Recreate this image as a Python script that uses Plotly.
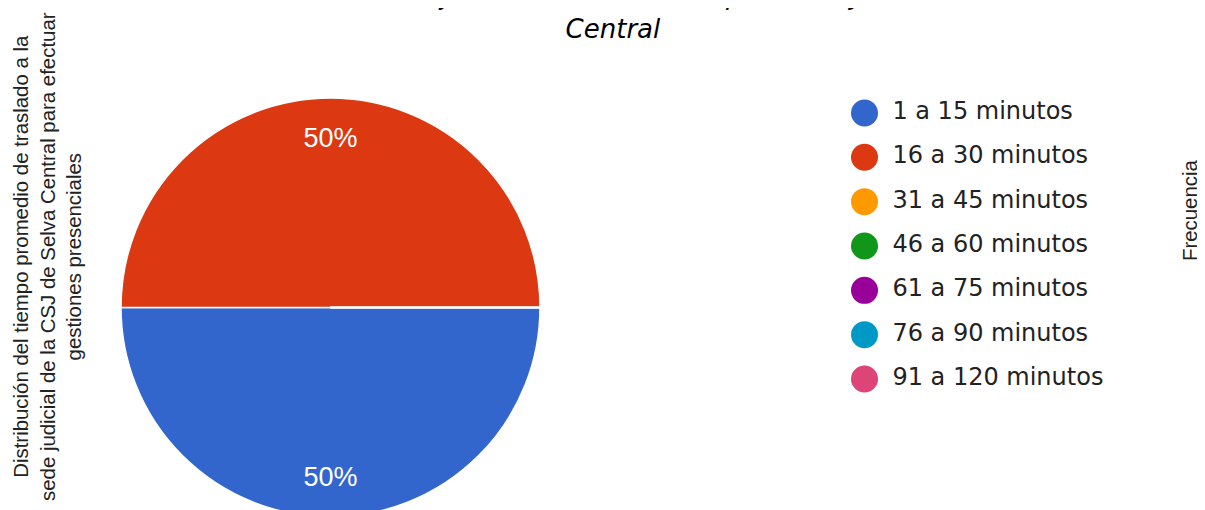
import plotly.graph_objects as go

# ---- data ----
categories = ["1 a 15 minutos", "16 a 30 minutos", "31 a 45 minutos", "46 a 60 minutos",
              "61 a 75 minutos", "76 a 90 minutos", "91 a 120 minutos"]
values = [1, 1, 0, 0, 0, 0, 0]
colors = ["#3366CC", "#DC3912", "#FF9900", "#109618", "#990099", "#0099C6", "#DD4477"]

title_text = ("trasladarse a la sede judicial de la Corte Superior de Justicia de Selva<br>"
              "Central")
left_title = ("Distribución del tiempo promedio de traslado a la<br>"
              "sede judicial de la CSJ de Selva Central para efectuar<br>"
              "gestiones presenciales")
right_title = "Frecuencia"

W, H = 1205, 530
OFF = 8  # page body margin offset

def px_x(x):
    return (x - OFF) / W

def px_y(y):
    return 1 - (y - OFF) / H

pie_domain = dict(x=[px_x(121), px_x(540)], y=[px_y(517), px_y(98)])

fig = go.Figure()

# pie slices
fig.add_trace(go.Pie(
    labels=categories, values=values,
    marker=dict(colors=colors, line=dict(color="white", width=1.5)),
    sort=False, direction="clockwise", rotation=90,
    textinfo="none",
    hoverinfo="label+percent",
    showlegend=False,
    domain=pie_domain,
))

# percentage labels (ring overlay so labels sit near the rim)
fig.add_trace(go.Pie(
    labels=categories, values=values, hole=0.62,
    marker=dict(colors=["rgba(0,0,0,0)"] * len(categories), line=dict(width=0)),
    sort=False, direction="clockwise", rotation=90,
    textinfo="percent", texttemplate="%{percent:.0%}",
    textposition="inside", insidetextorientation="horizontal",
    textfont=dict(family="Liberation Sans, Arial", size=27, color="white"),
    hoverinfo="skip",
    showlegend=False,
    domain=pie_domain,
))

# legend drawn as a scatter of the categories
fig.add_trace(go.Scatter(
    x=[0] * len(categories), y=categories,
    mode="markers",
    marker=dict(size=27, color=colors, line=dict(width=0)),
    showlegend=False, hoverinfo="skip", cliponaxis=False,
    xaxis="x", yaxis="y",
))
fig.add_trace(go.Scatter(
    x=[0] * len(categories), y=categories,
    mode="markers+text",
    marker=dict(size=43, color="rgba(0,0,0,0)", line=dict(width=0)),
    text=categories, textposition="middle right",
    textfont=dict(family="DejaVu Sans", size=24, color="#222222"),
    showlegend=False, hoverinfo="skip", cliponaxis=False,
    xaxis="x", yaxis="y",
))

fig.update_layout(
    width=W, height=H,
    margin=dict(l=0, r=0, t=0, b=0),
    paper_bgcolor="white", plot_bgcolor="white",
    showlegend=False,
    xaxis=dict(domain=[px_x(864.5), 0.99], range=[0, 1], visible=False, fixedrange=True),
    yaxis=dict(domain=[px_y(401.2), px_y(90.8)], type="category",
               range=[6.5, -0.5], visible=False, fixedrange=True),
    annotations=[
        dict(text=title_text, xref="paper", yref="paper",
             x=px_x(612.5), y=px_y(46), xanchor="center", yanchor="bottom",
             showarrow=False, align="center",
             font=dict(family="DejaVu Sans", size=26, style="italic", color="#000000")),
        dict(text=left_title, textangle=-90, xref="paper", yref="paper",
             x=px_x(47), y=px_y(257), xanchor="center", yanchor="middle",
             showarrow=False,
             font=dict(family="Liberation Sans, Arial", size=20.4, color="#222222")),
        dict(text=right_title, textangle=-90, xref="paper", yref="paper",
             x=px_x(1190), y=px_y(210), xanchor="center", yanchor="middle",
             showarrow=False,
             font=dict(family="Liberation Sans, Arial", size=20.4, color="#222222")),
    ],
)

fig.write_html("out.html")
